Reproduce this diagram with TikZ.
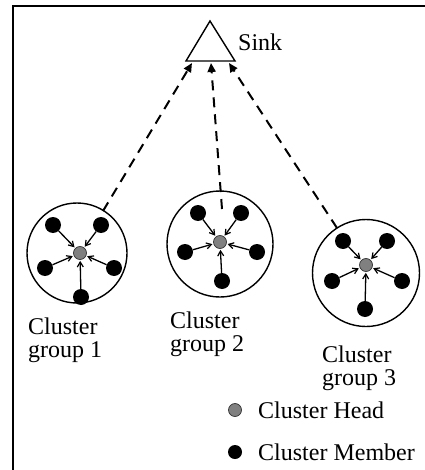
\documentclass[tikz,border=0pt]{standalone}
\usepackage{fontspec}
\setmainfont{Liberation Serif}
\usetikzlibrary{arrows.meta}
\begin{document}
\begin{tikzpicture}[x=1pt,y=-1pt,
 member/.style={circle,fill=black,inner sep=0,minimum size=16pt},
 head/.style={circle,fill=black!50,draw=black!80,line width=0.7pt,inner sep=0,minimum size=13pt},
 grp/.style={circle,draw=black,line width=1.4pt,inner sep=0,minimum size=#1},
 arr/.style={-{Straight Barb[length=5pt,width=6pt,line width=1.2pt]},line width=1.3pt,shorten >=1pt},
 dasharr/.style={dash pattern=on 10pt off 7pt,line width=2pt,-{Triangle[length=9pt,width=8pt]}},
 lbl/.style={font=\fontsize{24}{23}\selectfont,inner sep=0,align=left},
 txt/.style={font=\fontsize{24}{23}\selectfont,inner sep=0},
]
\useasboundingbox (0,0) rectangle (424,470);
\draw[line width=1.8pt] (13,476) -- (13,6) -- (430,6);

% sink
\coordinate (apex) at (210,21);
\coordinate (br) at (235,61);
\coordinate (bl) at (186,61);
\draw[line width=1.4pt] (apex) -- (br) -- (bl) -- cycle;
\node[txt,anchor=west] (sinklbl) at (238,42) {Sink};
\coordinate (s1) at (192,63);
\coordinate (s2) at (211,63);
\coordinate (s3) at (229,63);

% cluster 1
\node[grp=100pt] (g1) at (77,253) {};
\node[head] (h1) at (80,253) {};
\node[member] (m11) at (53,225) {};
\node[member] (m12) at (101,225) {};
\node[member] (m13) at (45,268) {};
\node[member] (m14) at (114,268) {};
\node[member] (m15) at (81,297) {};
\foreach \m in {m11,m12,m13,m14,m15} \draw[arr] (\m) -- (h1);
\coordinate (c1) at (103,211);
\node[lbl,anchor=north west] (l1) at (28,318) {Cluster\\group 1};

% cluster 2
\node[grp=106pt] (g2) at (220,244) {};
\node[head] (h2) at (220,242) {};
\node[member] (m21) at (198,213) {};
\node[member] (m22) at (241,213) {};
\node[member] (m23) at (185,252) {};
\node[member] (m24) at (257,252) {};
\node[member] (m25) at (222,281) {};
\foreach \m in {m21,m22,m23,m24,m25} \draw[arr] (\m) -- (h2);
\coordinate (c2) at (222,209);
\node[lbl,anchor=north west] (l2) at (170,312) {Cluster\\group 2};

% cluster 3
\node[grp=107pt] (g3) at (366,273) {};
\node[head] (h3) at (366,265) {};
\node[member] (m31) at (343,241) {};
\node[member] (m32) at (387,241) {};
\node[member] (m33) at (332,281) {};
\node[member] (m34) at (402,281) {};
\node[member] (m35) at (365,309) {};
\foreach \m in {m31,m32,m33,m34,m35} \draw[arr] (\m) -- (h3);
\coordinate (c3) at (337,228);
\node[lbl,anchor=north west] (l3) at (322,346) {Cluster\\group 3};

% links to sink
\draw[dasharr] (c1) -- (s1);
\draw[dasharr] (c2) -- (s2);
\draw[dasharr] (c3) -- (s3);

% legend
\node[head] (lh) at (235,410) {};
\node[member,minimum size=14pt] (lm) at (235,452) {};
\node[txt,anchor=west] (lht) at (258,410) {Cluster Head};
\node[txt,anchor=west] (lmt) at (258,452) {Cluster Member};
\end{tikzpicture}
\end{document}
